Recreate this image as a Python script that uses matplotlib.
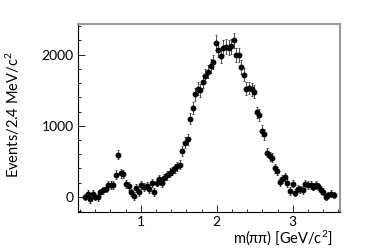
import numpy as np
import matplotlib
matplotlib.use("Agg")
import matplotlib.pyplot as plt
from matplotlib.ticker import MultipleLocator

plt.rcParams["font.family"] = ["Lato", "DejaVu Sans"]
plt.rcParams["mathtext.default"] = "regular"

# bin centres of the m(pipi) histogram
x_first = 0.267
bin_width = 0.0337

counts = [0, 40, -30, 40, 0, -10, 60, 90, 110, 160,
          170, 170, 310, 590, 330, 320, 180, 150, 60, 10,
          120, 60, 160, 140, 150, 110, 190, 70, 200, 250,
          190, 260, 300, 340, 360, 400, 430, 450, 640, 760,
          810, 1100, 1250, 1440, 1520, 1500, 1620, 1700, 1760, 1840,
          1900, 2170, 2070, 1980, 2100, 2110, 2100, 2120, 2200, 1990,
          2000, 1830, 1720, 1520, 1530, 1510, 1480, 1190, 1150, 930,
          880, 620, 570, 550, 400, 360, 210, 250, 280, 190,
          80, 185, 55, 115, 105, 95, 175, 170, 165, 140,
          165, 150, 95, 70, 0, 25, 45, 25]

errors = [45, 50, 60, 50, 45, 45, 50, 50, 50, 55,
          55, 55, 60, 65, 60, 60, 55, 55, 50, 50,
          55, 50, 55, 55, 55, 55, 55, 55, 55, 60,
          55, 60, 60, 60, 60, 65, 65, 65, 70, 75,
          75, 80, 85, 90, 90, 90, 95, 95, 95, 100,
          100, 105, 105, 100, 105, 105, 105, 105, 105, 100,
          100, 100, 95, 90, 90, 90, 90, 80, 80, 75,
          75, 65, 65, 65, 60, 60, 55, 55, 55, 55,
          50, 55, 50, 50, 50, 50, 55, 55, 55, 50,
          55, 50, 50, 50, 45, 45, 45, 45]

x = x_first + bin_width * np.arange(len(counts))

fig = plt.figure(figsize=(3.74, 2.5), dpi=100)
ax = fig.add_axes([0.2086, 0.152, 0.7005, 0.752])

ax.errorbar(x, counts, yerr=errors, fmt="o", color="black", ms=3.2,
            ecolor="#333333", elinewidth=0.6, capsize=1.0, capthick=0.6)

ax.set_xlim(0.175, 3.62)
ax.set_ylim(-215, 2432)

ax.xaxis.set_major_locator(MultipleLocator(1))
ax.xaxis.set_minor_locator(MultipleLocator(0.2))
ax.yaxis.set_major_locator(MultipleLocator(1000))
ax.yaxis.set_minor_locator(MultipleLocator(200))
ax.tick_params(which="both", direction="in", top=False, right=False,
               labelsize=10, width=0.6, pad=3)
ax.tick_params(which="major", length=5)
ax.tick_params(which="minor", length=2.5)

for side in ["left", "bottom"]:
    ax.spines[side].set_color("black")
    ax.spines[side].set_linewidth(0.8)
for side in ["top", "right"]:
    ax.spines[side].set_color("#999999")
    ax.spines[side].set_linewidth(1.5)

ax.set_xlabel("m(\u03c0\u03c0) [GeV/c$^{2}$]", fontsize=10.5, ha="right")
ax.xaxis.set_label_coords(0.973, -0.088)
ax.set_ylabel("Events/2.4 MeV/c$^{2}$", fontsize=10.5)
ax.yaxis.set_label_coords(-0.214, 0.516)

fig.savefig("out.png", dpi=100)
